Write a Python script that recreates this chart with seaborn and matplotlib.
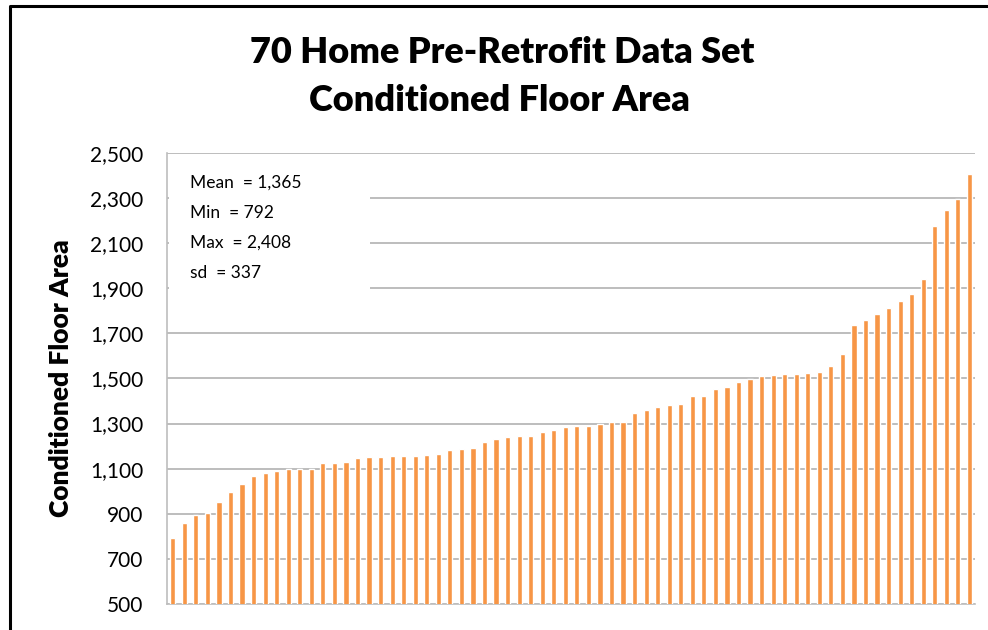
import numpy as np
import pandas as pd
import matplotlib.pyplot as plt
import seaborn as sns
from matplotlib.lines import Line2D
from matplotlib.patches import Rectangle

# conditioned floor area of each home, sorted ascending
floor_area = [
    792, 860, 895, 905, 951, 998, 1032, 1069, 1080, 1090,
    1097, 1099, 1099, 1124, 1127, 1131, 1146, 1150, 1150, 1156,
    1156, 1156, 1159, 1164, 1183, 1187, 1193, 1217, 1232, 1241,
    1246, 1246, 1263, 1273, 1284, 1291, 1291, 1298, 1307, 1307,
    1348, 1359, 1372, 1383, 1388, 1424, 1424, 1454, 1462, 1486,
    1498, 1510, 1514, 1520, 1520, 1526, 1530, 1557, 1610, 1739,
    1761, 1786, 1814, 1842, 1876, 1943, 2175, 2246, 2296, 2408,
]
home = list(range(1, len(floor_area) + 1))
stats_lines = ["Mean  = 1,365", "Min  = 792", "Max  = 2,408", "sd  = 337"]
y_ticks = [500, 700, 900, 1100, 1300, 1500, 1700, 1900, 2100, 2300, 2500]

df = pd.DataFrame({"home": home, "area": floor_area})

sns.set_style("white")
plt.rcParams["font.family"] = ["Lato", "DejaVu Sans"]
plt.rcParams["text.color"] = "black"
plt.rcParams["ytick.labelcolor"] = "black"

fig = plt.figure(figsize=(9.88, 6.3), dpi=100)
ax = fig.add_axes([0.169, 0.0413, 0.818, 0.716])

sns.barplot(data=df, x="home", y="area", color="#F79646", width=0.45,
            saturation=1, ax=ax, zorder=3)

ax.set_ylim(500, 2500)
ax.set_yticks(y_ticks)
ax.set_yticklabels([f"{v:,}" for v in y_ticks], fontsize=15)
ax.set_xticks([])
ax.set_xlabel("")
ax.set_ylabel("Conditioned Floor Area", fontsize=19, fontweight="heavy",
              color="black", labelpad=12)
ax.grid(axis="y", color="#BDBDBD", linewidth=1.4, zorder=0)
ax.tick_params(axis="y", length=4, color="#BDBDBD", pad=13)
for side in ["top", "right"]:
    ax.spines[side].set_visible(False)
for side in ["left", "bottom"]:
    ax.spines[side].set_color("#BDBDBD")
    ax.spines[side].set_linewidth(1.2)

# white stats box covering the gridlines at top left
ax.add_patch(Rectangle((0.003, 0.62), 0.248, 0.37, transform=ax.transAxes,
                       facecolor="white", edgecolor="none", zorder=4))
ax.text(0.028, 0.952, "\n".join(stats_lines), transform=ax.transAxes,
        fontsize=12.5, va="top", ha="left", linespacing=2.08, zorder=5)

fig.text(0.508, 0.916, "70 Home Pre-Retrofit Data Set", ha="center", va="center",
         fontsize=26, fontweight="heavy")
fig.text(0.506, 0.841, "Conditioned Floor Area", ha="center", va="center",
         fontsize=26, fontweight="heavy")

# outer frame (left and top edges)
fig.add_artist(Line2D([0.0105, 0.0105, 1.0], [0.0, 0.990, 0.990],
                      transform=fig.transFigure, color="black", linewidth=2.2))

plt.savefig("out.png", dpi=100)
